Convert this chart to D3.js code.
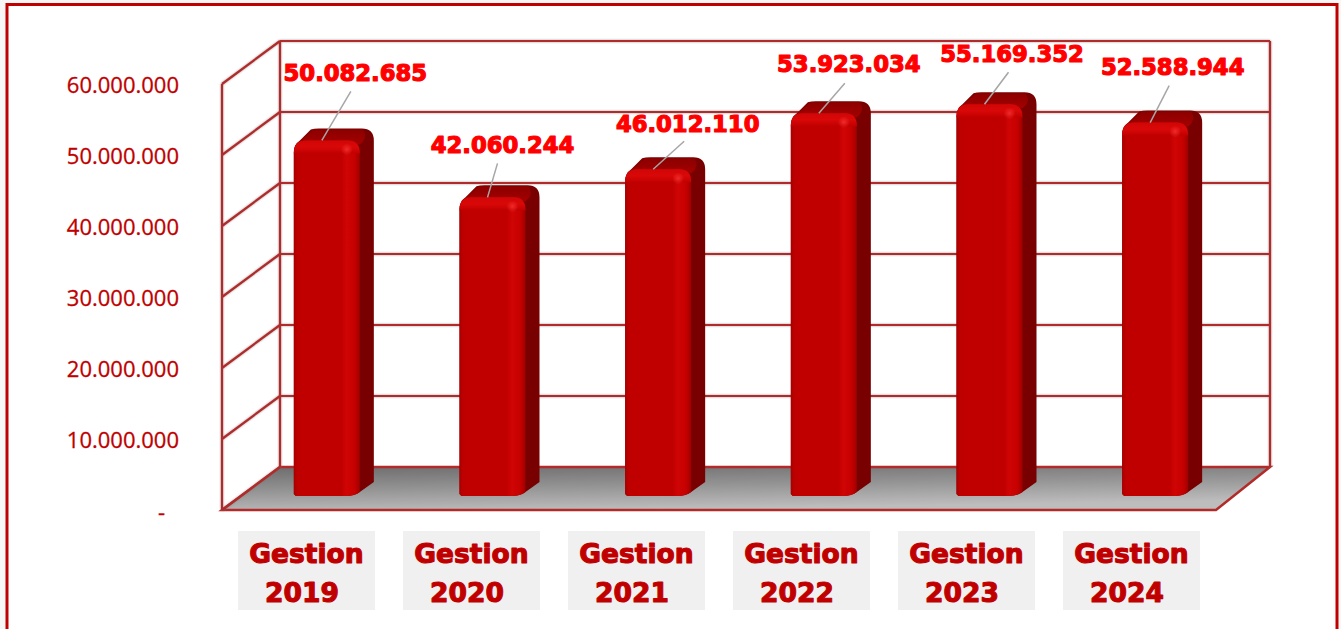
<!DOCTYPE html>
<html>
<head>
<meta charset="utf-8">
<script src="https://cdn.jsdelivr.net/npm/d3@7"></script>
<style>
html, body { margin: 0; padding: 0; background: #fff; overflow: hidden; }
svg { display: block; }
text { stroke-linejoin: round; }
</style>
</head>
<body>
<div id="chart"></div>
<script>
const categories = ['Gestion 2019', 'Gestion 2020', 'Gestion 2021', 'Gestion 2022', 'Gestion 2023', 'Gestion 2024'];
const values = [50082685, 42060244, 46012110, 53923034, 55169352, 52588944];
const tickValues = [0, 10000000, 20000000, 30000000, 40000000, 50000000, 60000000];

// where each value label sits, relative to the point on the top of its bar
const leaderDx = [29, 10, 31, 26, 24, 19];
const leaderDy = [-49, -34, -28, -30, -32, -37];
const labelDx = [33.5, 15, 34.5, 30, 27.5, 22.5];
const labelDy = [-59, -44, -37, -41, -42, -48];

const width = 1341, height = 629;
const line_col = '#b32a2a';
const label_col = '#ff0000';
const dark_col = '#c00000';

const fmt = d3.formatLocale({ decimal: ',', thousands: '.', grouping: [3], currency: ['', ''] }).format(',d');

// back wall, the front edge is the same thing moved by depthX/depthY
const yBack = d3.scaleLinear().domain([0, 60000000]).range([467, 41]);
const yFront = d3.scaleLinear().domain([0, 60000000]).range([510, 84]);
const yBar = d3.scaleLinear().domain([0, 60000000]).range([496, 70]);
const xBar = d3.scaleBand().domain(categories).range([251, 1245]).paddingInner(0);
// the boxes under the floor are spaced a bit tighter than the bars
const xCat = d3.scaleBand().domain(categories).range([238, 1228]).paddingInner(0);

const depthX = 58;
const barW = 66, barDepthX = 14, barDepthY = 12;

var svg = d3.select('#chart').append('svg')
    .attr('width', width)
    .attr('height', height);

var defs = svg.append('defs');

function gradient(id, stops, x2, y2) {
    let g = defs.append('linearGradient').attr('id', id)
        .attr('x1', 0).attr('y1', 0).attr('x2', x2).attr('y2', y2);
    stops.forEach(s => g.append('stop').attr('offset', s[0]).attr('stop-color', s[1]));
}

gradient('floor', [[0, '#6c6c6c'], [0.5, '#939393'], [1, '#bdbdbd']], 0.35, 1);
gradient('front', [[0, '#a80000'], [0.05, '#bc0000'], [0.12, '#c00000'], [0.72, '#c00000'], [0.8, '#d00404'], [0.92, '#c60000'], [1, '#a00000']], 1, 0);
gradient('side', [[0, '#8a0000'], [0.35, '#780000'], [1, '#780000']], 1, 0);
gradient('top', [[0, '#8c0000'], [1, '#a40000']], 0, 1);
gradient('bevel', [[0, '#d00606'], [0.5, '#da0808'], [1, '#c00000']], 0, 1);

let spot = defs.append('radialGradient').attr('id', 'spot');
spot.append('stop').attr('offset', 0).attr('stop-color', '#f02a2a');
spot.append('stop').attr('offset', 1).attr('stop-color', '#f02a2a').attr('stop-opacity', 0);

// page background and frame
svg.append('rect').attr('width', width).attr('height', height).attr('fill', '#f6f6f6');
svg.append('rect').attr('x', 7).attr('y', 4.5).attr('width', 1330).attr('height', 640)
    .attr('fill', '#fff').attr('stroke', '#c00000').attr('stroke-width', 3);

// floor
svg.append('path')
    .attr('d', `M${222},${yFront(0)}L${222 + depthX},${yBack(0)}L${1270},${yBack(0)}L${1216},${yFront(0)}Z`)
    .attr('fill', 'url(#floor)')
    .attr('stroke', line_col).attr('stroke-width', 2.5);

// walls
var grid = svg.append('g')
    .attr('fill', 'none')
    .attr('stroke', line_col)
    .attr('stroke-width', 2.2)
    .style('filter', 'drop-shadow(0 0 1px rgba(120,120,120,.7))');

grid.selectAll('.back').data(tickValues.slice(1)).enter().append('line')
    .attr('x1', 280).attr('x2', 1270)
    .attr('y1', d => yBack(d)).attr('y2', d => yBack(d));

grid.selectAll('.diag').data(tickValues).enter().append('line')
    .attr('x1', 222).attr('x2', 280)
    .attr('y1', d => yFront(d)).attr('y2', d => yBack(d));

grid.append('line').attr('x1', 222).attr('x2', 222).attr('y1', yFront(60000000)).attr('y2', yFront(0));
grid.append('line').attr('x1', 280).attr('x2', 280).attr('y1', yBack(60000000)).attr('y2', yBack(0));
grid.append('line').attr('x1', 1270).attr('x2', 1270).attr('y1', yBack(60000000)).attr('y2', yBack(0));

// y axis
var axis = svg.append('g')
    .attr('transform', 'translate(222,1)')
    .call(d3.axisLeft(yFront).tickValues(tickValues).tickSize(0).tickPadding(43)
        .tickFormat(d => d === 0 ? '-' : fmt(d)));
axis.select('.domain').remove();
axis.selectAll('text')
    .attr('fill', dark_col)
    .attr('stroke', dark_col)
    .attr('stroke-width', 0.3)
    .style('font-family', '"Open Sans"')
    .style('font-size', '22px');
axis.selectAll('.tick').filter(d => d === 0).select('text').attr('x', -57).attr('dy', '.37em');

// bars
var bars = svg.selectAll('.bar')
    .data(categories.map((c, i) => ({ c: c, v: values[i], i: i })))
    .enter().append('g').attr('class', 'bar');

function barX(d) {
    return xBar(d.c) + (xBar.bandwidth() - barW - barDepthX) / 2;
}

function silhouette(d) {
    let x0 = barX(d);
    let x1 = x0 + barW, x2 = x1 + barDepthX;
    let t = yBar(d.v), b = yBar(0);
    let p = d3.path();
    p.moveTo(x0, b - 2);
    p.lineTo(x0, t + 12);
    p.quadraticCurveTo(x0, t + 4, x0 + 6, t);
    p.lineTo(x0 + barDepthX + 3, t - barDepthY + 1);
    p.quadraticCurveTo(x0 + barDepthX + 6, t - barDepthY, x0 + barDepthX + 11, t - barDepthY);
    p.lineTo(x2 - 12, t - barDepthY);
    p.quadraticCurveTo(x2, t - barDepthY, x2, t);
    p.lineTo(x2, b - 14);
    p.lineTo(x1, b - 4);
    p.quadraticCurveTo(x1 - 5, b, x1 - 14, b);
    p.lineTo(x0 + 2, b);
    p.closePath();
    return p.toString();
}

function frontFace(d) {
    let x0 = barX(d);
    let x1 = x0 + barW;
    let t = yBar(d.v), b = yBar(0);
    let p = d3.path();
    p.moveTo(x0, b - 2);
    p.lineTo(x0, t + 12);
    p.quadraticCurveTo(x0, t, x0 + 12, t);
    p.lineTo(x1 - 12, t);
    p.quadraticCurveTo(x1, t, x1, t + 12);
    p.lineTo(x1, b - 4);
    p.quadraticCurveTo(x1 - 5, b, x1 - 14, b);
    p.lineTo(x0 + 2, b);
    p.closePath();
    return p.toString();
}

function bevel(d) {
    let x0 = barX(d);
    let x1 = x0 + barW;
    let t = yBar(d.v);
    let p = d3.path();
    p.moveTo(x0, t + 13);
    p.quadraticCurveTo(x0, t, x0 + 12, t);
    p.lineTo(x1 - 12, t);
    p.quadraticCurveTo(x1, t, x1, t + 13);
    p.closePath();
    return p.toString();
}

function topFace(d) {
    let x0 = barX(d);
    let t = yBar(d.v);
    let p = d3.path();
    p.moveTo(x0 + 6, t + 1);
    p.lineTo(x0 + barDepthX + 6, t - barDepthY + 1);
    p.lineTo(x0 + barW + 3, t - barDepthY + 1);
    p.quadraticCurveTo(x0 + barW + 9, t - 3, x0 + barW, t + 4);
    p.closePath();
    return p.toString();
}

bars.append('path').attr('d', silhouette).attr('fill', 'url(#side)');
bars.append('path').attr('d', topFace).attr('fill', 'url(#top)');
bars.append('path').attr('d', frontFace).attr('fill', 'url(#front)');
bars.append('path').attr('d', bevel).attr('fill', 'url(#bevel)');
bars.append('circle')
    .attr('cx', d => barX(d) + barW - 13)
    .attr('cy', d => yBar(d.v) + 9)
    .attr('r', 6)
    .attr('fill', 'url(#spot)');

// leader lines and value labels
function anchorX(d) {
    return barX(d) + 28;
}

bars.append('line')
    .attr('x1', anchorX)
    .attr('y1', d => yBar(d.v))
    .attr('x2', d => anchorX(d) + leaderDx[d.i])
    .attr('y2', d => yBar(d.v) + leaderDy[d.i])
    .attr('stroke', '#a6a6a6')
    .attr('stroke-width', 1.5);

bars.append('text')
    .attr('x', d => anchorX(d) + labelDx[d.i])
    .attr('y', d => yBar(d.v) + labelDy[d.i])
    .attr('text-anchor', 'middle')
    .attr('fill', label_col)
    .attr('stroke', label_col)
    .attr('stroke-width', 1.2)
    .style('font-family', '"DejaVu Sans"')
    .style('font-weight', 'bold')
    .style('font-size', '22.7px')
    .text(d => fmt(d.v));

// category boxes under the floor
var cats = svg.selectAll('.cat').data(categories).enter().append('g').attr('class', 'cat')
    .attr('transform', d => `translate(${xCat(d)},0)`);

cats.append('rect')
    .attr('x', 0).attr('y', 531)
    .attr('width', 137).attr('height', 79)
    .attr('fill', '#f0f0f0');

cats.selectAll('text').data(d => d.split(' ')).enter().append('text')
    .attr('x', (d, i) => i == 0 ? 68.5 : 64)
    .attr('y', (d, i) => i == 0 ? 563 : 602)
    .attr('text-anchor', 'middle')
    .attr('fill', dark_col)
    .attr('stroke', dark_col)
    .attr('stroke-width', 1.1)
    .style('font-family', '"DejaVu Sans"')
    .style('font-weight', 'bold')
    .style('font-size', '26.5px')
    .text(d => d);
</script>
</body>
</html>
